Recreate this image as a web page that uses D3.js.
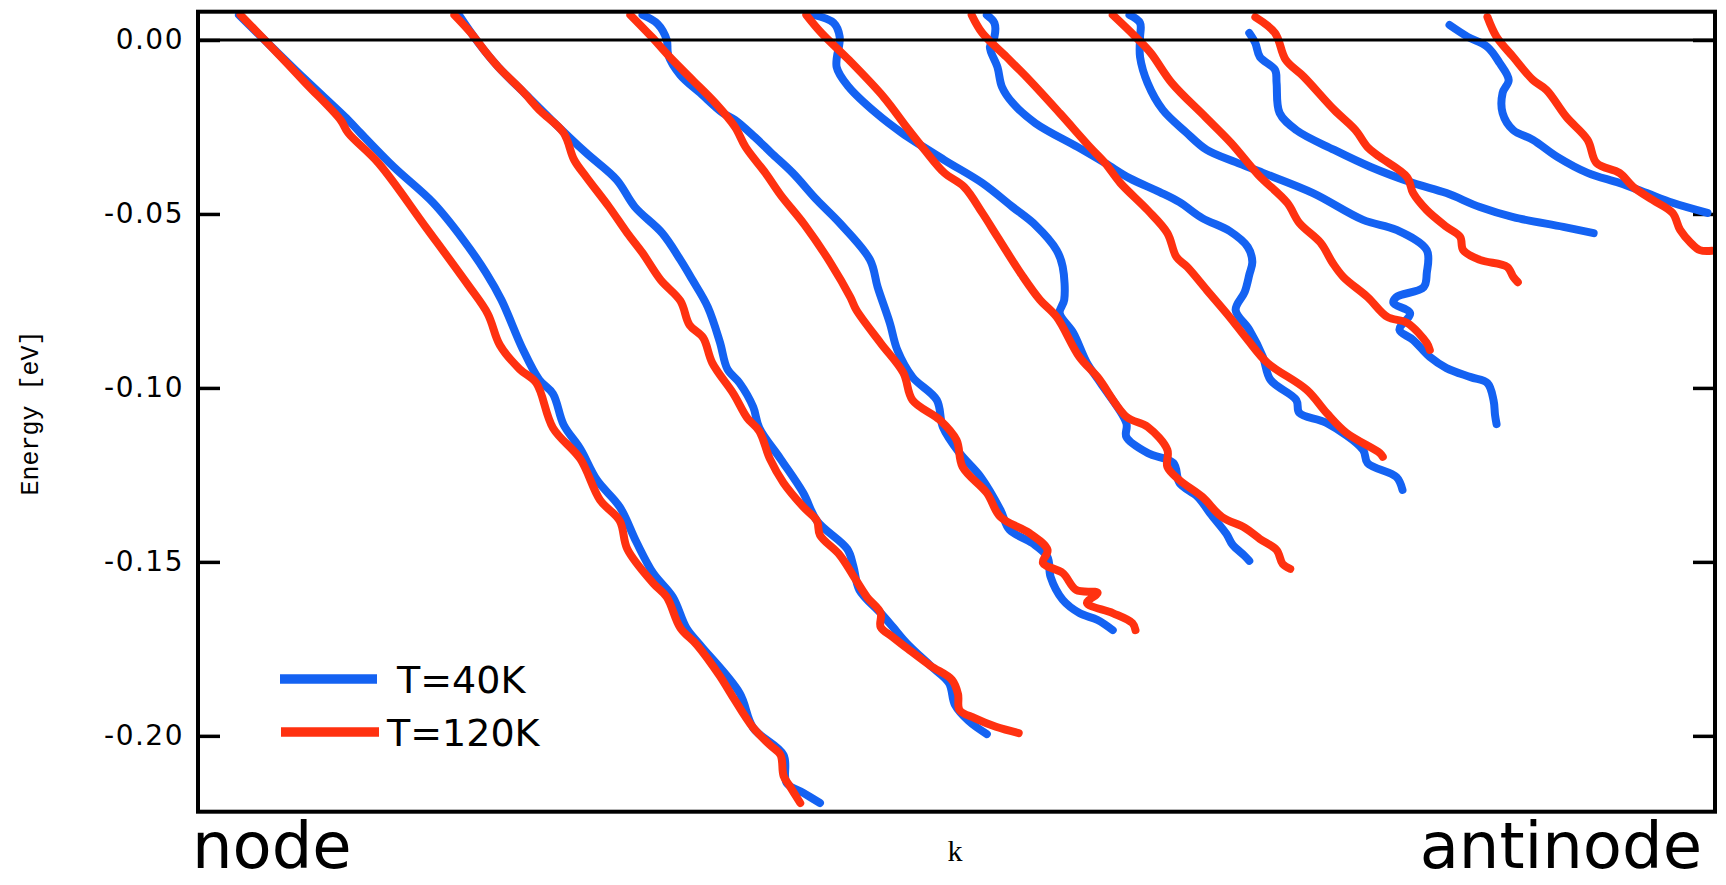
<!DOCTYPE html>
<html>
<head>
<meta charset="utf-8">
<script src="https://cdn.jsdelivr.net/npm/d3@7"></script>
<style>
  html, body { margin: 0; padding: 0; background: #ffffff; }
  svg { display: block; }
</style>
</head>
<body>
<svg id="chart" width="1726" height="885"></svg>
<script>
// ---- Data: k (0 = node, 1 = antinode, arbitrary units) and Energy in meV ----
const yTickValues = [0, -0.05, -0.10, -0.15, -0.20];
const yTickLabels = ["0.00", "-0.05", "-0.10", "-0.15", "-0.20"];
const seriesNames = ["T=40K", "T=120K"];

// cut 1 (node)
const cut1_T40 = [[0.027,7.2],[0.046,-0.9],[0.071,-11.5],[0.099,-23.0],[0.107,-26.7],[0.129,-36.5],[0.155,-46.8],[0.175,-57.5],[0.190,-67.0],[0.200,-74.7],[0.214,-88.8],[0.225,-97.7],[0.234,-101.7],[0.241,-110.6],[0.252,-117.5],[0.263,-126.5],[0.278,-134.2],[0.289,-144.3],[0.300,-153.2],[0.313,-160.1],[0.322,-169.0],[0.331,-173.9],[0.357,-187.7],[0.366,-197.7],[0.386,-205.5],[0.388,-213.5],[0.399,-216.4],[0.410,-219.3]];
const cut1_T120 = [[0.028,7.2],[0.044,0.0],[0.071,-12.4],[0.094,-23.0],[0.099,-26.7],[0.119,-35.4],[0.150,-53.7],[0.178,-70.4],[0.191,-78.7],[0.199,-87.7],[0.212,-94.6],[0.223,-98.6],[0.234,-111.5],[0.252,-120.4],[0.265,-132.2],[0.278,-138.2],[0.283,-146.3],[0.300,-156.1],[0.309,-160.1],[0.318,-169.0],[0.329,-173.9],[0.344,-182.8],[0.351,-187.7],[0.366,-197.7],[0.377,-202.6],[0.384,-205.5],[0.386,-211.5],[0.390,-214.4],[0.397,-219.3]];
// cut 2
const cut2_T40 = [[0.172,7.2],[0.185,-0.9],[0.198,-7.8],[0.215,-15.2],[0.233,-23.0],[0.256,-32.5],[0.276,-40.2],[0.288,-48.0],[0.306,-55.5],[0.318,-63.2],[0.326,-69.0],[0.336,-76.7],[0.344,-86.8],[0.349,-94.6],[0.357,-98.6],[0.366,-105.5],[0.370,-111.5],[0.384,-120.4],[0.399,-130.2],[0.408,-138.2],[0.428,-146.3],[0.432,-151.2],[0.436,-158.1],[0.450,-164.7],[0.458,-168.7],[0.467,-173.3],[0.483,-179.9],[0.495,-184.8],[0.499,-191.1],[0.508,-195.7],[0.520,-199.5]];
const cut2_T120 = [[0.169,7.2],[0.180,2.0],[0.190,-3.7],[0.198,-7.8],[0.215,-15.2],[0.225,-20.1],[0.241,-26.7],[0.248,-34.5],[0.256,-39.4],[0.271,-48.0],[0.283,-55.5],[0.293,-61.2],[0.305,-69.0],[0.318,-75.0],[0.324,-81.9],[0.333,-85.6],[0.339,-92.8],[0.353,-101.7],[0.362,-108.6],[0.370,-112.4],[0.377,-120.4],[0.386,-127.3],[0.399,-134.2],[0.408,-138.2],[0.410,-142.3],[0.423,-148.0],[0.432,-154.0],[0.441,-160.1],[0.450,-164.7],[0.450,-168.7],[0.458,-171.6],[0.468,-175.0],[0.483,-179.9],[0.497,-183.9],[0.501,-188.0],[0.502,-192.6],[0.512,-194.9],[0.526,-197.4],[0.541,-199.2]];
// cut 3
const cut3_T40 = [[0.293,7.2],[0.303,4.6],[0.309,0.0],[0.310,-4.3],[0.318,-10.1],[0.331,-15.2],[0.346,-21.0],[0.354,-23.0],[0.367,-27.9],[0.378,-32.5],[0.392,-38.2],[0.408,-46.0],[0.423,-52.6],[0.443,-63.2],[0.448,-71.0],[0.456,-81.3],[0.461,-89.1],[0.471,-96.9],[0.487,-103.5],[0.491,-111.2],[0.502,-118.7],[0.516,-125.6],[0.529,-135.1],[0.535,-140.8],[0.550,-144.6],[0.560,-148.6],[0.562,-154.3],[0.570,-160.9],[0.581,-164.7],[0.593,-166.7],[0.603,-169.6]];
const cut3_T120 = [[0.285,7.2],[0.299,0.9],[0.311,-4.9],[0.326,-11.5],[0.341,-18.1],[0.354,-25.0],[0.361,-30.8],[0.374,-38.2],[0.384,-44.5],[0.400,-53.2],[0.417,-64.1],[0.430,-73.9],[0.434,-77.6],[0.450,-87.1],[0.465,-95.7],[0.471,-103.5],[0.489,-109.2],[0.500,-115.0],[0.504,-122.7],[0.520,-130.2],[0.529,-137.1],[0.548,-141.7],[0.560,-146.6],[0.557,-150.3],[0.570,-153.2],[0.579,-158.1],[0.593,-158.9],[0.586,-161.8],[0.603,-164.7],[0.616,-167.6],[0.618,-169.6]];
// cut 4
const cut4_T40 = [[0.406,7.2],[0.419,4.9],[0.423,0.9],[0.421,-7.8],[0.429,-13.5],[0.447,-21.0],[0.464,-26.7],[0.492,-34.5],[0.517,-41.1],[0.537,-48.0],[0.552,-53.2],[0.566,-60.4],[0.570,-65.2],[0.571,-74.7],[0.568,-78.5],[0.577,-84.2],[0.586,-92.8],[0.595,-98.6],[0.612,-110.1],[0.612,-114.1],[0.626,-118.7],[0.643,-121.6],[0.647,-127.3],[0.659,-131.3],[0.668,-136.5],[0.678,-142.0],[0.682,-145.1],[0.690,-148.3],[0.693,-149.7]];
const cut4_T120 = [[0.401,7.2],[0.411,2.0],[0.429,-5.7],[0.452,-16.4],[0.467,-25.0],[0.479,-31.6],[0.492,-38.2],[0.505,-42.2],[0.517,-49.7],[0.527,-56.6],[0.543,-67.5],[0.555,-74.7],[0.566,-79.6],[0.581,-91.1],[0.593,-96.9],[0.612,-108.3],[0.626,-111.2],[0.639,-117.8],[0.639,-122.7],[0.647,-126.5],[0.662,-131.3],[0.675,-137.1],[0.690,-140.2],[0.700,-143.4],[0.711,-146.6],[0.715,-150.6],[0.720,-152.0]];
// cut 5
const cut5_T40 = [[0.520,7.2],[0.525,4.9],[0.525,0.9],[0.522,-2.0],[0.527,-7.8],[0.530,-13.5],[0.537,-18.1],[0.552,-23.9],[0.580,-30.8],[0.598,-35.4],[0.614,-39.7],[0.634,-43.7],[0.647,-46.6],[0.662,-51.2],[0.680,-54.9],[0.692,-59.5],[0.695,-63.8],[0.693,-67.5],[0.690,-72.4],[0.684,-77.6],[0.693,-83.3],[0.702,-91.1],[0.707,-97.7],[0.724,-103.5],[0.726,-107.2],[0.744,-110.1],[0.768,-117.8],[0.771,-121.6],[0.790,-125.6],[0.794,-129.3]];
const cut5_T120 = [[0.510,7.2],[0.517,2.0],[0.533,-4.9],[0.548,-11.5],[0.568,-21.0],[0.588,-30.8],[0.598,-35.4],[0.608,-41.1],[0.626,-48.9],[0.639,-55.5],[0.645,-62.4],[0.652,-65.2],[0.665,-71.9],[0.680,-79.6],[0.692,-86.2],[0.705,-92.8],[0.731,-100.6],[0.744,-107.2],[0.757,-112.9],[0.779,-118.7],[0.781,-119.8]];
// cut 6
const cut6_T40 = [[0.614,7.2],[0.621,4.9],[0.621,0.9],[0.621,-4.9],[0.626,-12.4],[0.636,-20.1],[0.651,-26.4],[0.665,-31.6],[0.684,-35.1],[0.702,-38.2],[0.735,-44.0],[0.768,-51.7],[0.790,-54.6],[0.810,-60.4],[0.810,-67.0],[0.808,-71.0],[0.790,-73.9],[0.788,-75.6],[0.799,-78.5],[0.792,-83.3],[0.801,-86.2],[0.812,-91.1],[0.823,-94.3],[0.839,-96.9],[0.850,-98.6],[0.854,-103.5],[0.855,-107.8],[0.856,-110.4]];
const cut6_T120 = [[0.603,7.2],[0.618,0.9],[0.628,-3.7],[0.642,-12.4],[0.664,-22.1],[0.681,-29.6],[0.699,-38.8],[0.718,-46.8],[0.726,-52.6],[0.740,-58.3],[0.748,-64.1],[0.755,-68.1],[0.771,-73.9],[0.784,-79.6],[0.797,-81.3],[0.810,-87.1],[0.812,-89.1]];
// cut 7
const cut7_T40 = [[0.693,2.0],[0.697,-0.9],[0.700,-4.9],[0.710,-8.6],[0.711,-12.4],[0.713,-21.0],[0.724,-25.9],[0.749,-31.6],[0.773,-36.5],[0.801,-41.1],[0.823,-44.0],[0.845,-48.0],[0.867,-50.9],[0.900,-53.7],[0.920,-55.5]];
const cut7_T120 = [[0.697,6.6],[0.710,2.0],[0.717,-5.7],[0.729,-10.6],[0.749,-20.1],[0.763,-25.9],[0.771,-30.8],[0.779,-33.6],[0.797,-39.4],[0.801,-44.0],[0.810,-48.9],[0.823,-53.7],[0.832,-56.6],[0.834,-60.4],[0.845,-63.2],[0.863,-65.2],[0.867,-68.1],[0.870,-69.6]];
// cut 8 (antinode)
const cut8_T40 = [[0.825,4.3],[0.837,0.9],[0.850,-2.0],[0.858,-6.6],[0.864,-11.5],[0.860,-15.2],[0.860,-21.0],[0.867,-25.9],[0.880,-28.7],[0.896,-33.6],[0.916,-38.2],[0.937,-41.1],[0.955,-44.0],[0.972,-46.8],[0.995,-49.7]];
const cut8_T120 = [[0.850,6.6],[0.856,0.9],[0.867,-4.9],[0.880,-11.5],[0.889,-14.4],[0.902,-22.1],[0.916,-28.7],[0.922,-35.4],[0.937,-38.2],[0.946,-42.2],[0.959,-46.0],[0.972,-49.7],[0.977,-54.6],[0.984,-58.3],[0.990,-60.4],[0.998,-60.6]];

const curvesT40 = [cut1_T40, cut2_T40, cut3_T40, cut4_T40, cut5_T40, cut6_T40, cut7_T40, cut8_T40];
const curvesT120 = [cut1_T120, cut2_T120, cut3_T120, cut4_T120, cut5_T120, cut6_T120, cut7_T120, cut8_T120];

// ---- Layout ----
const W = 1726, H = 885;
const plot = { left: 198, right: 1715, top: 11.7, bottom: 811.7 };
const BLUE = "#1462f2", RED = "#ff3110";

const svg = d3.select("#chart");
svg.append("rect").attr("width", W).attr("height", H).attr("fill", "#fff");

const x = d3.scaleLinear().domain([0, 1]).range([plot.left, plot.right]);
const y = d3.scaleLinear().domain([0.00813, -0.2218]).range([plot.top, plot.bottom]);

// Axes (inward ticks on both sides)
const yAxisL = d3.axisLeft(y).tickValues(yTickValues)
  .tickFormat((d, i) => yTickLabels[i]).tickSize(-22).tickPadding(14);
const gL = svg.append("g").attr("transform", `translate(${plot.left},0)`).call(yAxisL);
gL.select(".domain").remove();
gL.selectAll(".tick line").attr("stroke", "#000").attr("stroke-width", 3.5);
gL.selectAll(".tick text").attr("fill", "#000")
  .style("font-family", "'DejaVu Sans', sans-serif").style("font-size", "28px")
  .style("letter-spacing", "1.5px");

const yAxisR = d3.axisRight(y).tickValues(yTickValues).tickFormat("").tickSize(-22);
const gR = svg.append("g").attr("transform", `translate(${plot.right},0)`).call(yAxisR);
gR.select(".domain").remove();
gR.selectAll(".tick line").attr("stroke", "#000").attr("stroke-width", 3.5);

// Curves
const line = d3.line().x(d => x(d[0])).y(d => y(d[1] / 1000)).curve(d3.curveCatmullRom.alpha(0.5));
const gC = svg.append("g");
gC.selectAll("path.t40").data(curvesT40).join("path").attr("class", "t40")
  .attr("d", line).attr("fill", "none").attr("stroke", BLUE)
  .attr("stroke-width", 8).attr("stroke-linejoin", "round").attr("stroke-linecap", "round");
gC.selectAll("path.t120").data(curvesT120).join("path").attr("class", "t120")
  .attr("d", line).attr("fill", "none").attr("stroke", RED)
  .attr("stroke-width", 8).attr("stroke-linejoin", "round").attr("stroke-linecap", "round");

// Zero (Fermi) line and frame
svg.append("line").attr("x1", plot.left).attr("x2", plot.right)
  .attr("y1", y(0)).attr("y2", y(0)).attr("stroke", "#000").attr("stroke-width", 3);
svg.append("rect").attr("x", plot.left).attr("y", plot.top)
  .attr("width", plot.right - plot.left).attr("height", plot.bottom - plot.top)
  .attr("fill", "none").attr("stroke", "#000").attr("stroke-width", 4);

// Axis titles
svg.append("text").attr("transform", "translate(38,413) rotate(-90)")
  .attr("text-anchor", "middle")
  .style("font-family", "'Liberation Mono', monospace").style("font-size", "25px")
  .text("Energy [eV]");
svg.append("text").attr("x", 955).attr("y", 861).attr("text-anchor", "middle")
  .style("font-family", "'Liberation Serif', serif").style("font-size", "30px")
  .text("k");
svg.append("text").attr("x", 192).attr("y", 868).attr("text-anchor", "start")
  .style("font-family", "'DejaVu Sans', sans-serif").style("font-size", "64px")
  .text("node");
svg.append("text").attr("x", 1702).attr("y", 868).attr("text-anchor", "end")
  .style("font-family", "'DejaVu Sans', sans-serif").style("font-size", "64px")
  .text("antinode");

// Legend
const legend = [
  { name: seriesNames[0], color: BLUE, x1: 280, x2: 377, ly: 679, tx: 397 },
  { name: seriesNames[1], color: RED, x1: 281, x2: 379, ly: 732, tx: 387 }
];
const gLeg = svg.append("g");
legend.forEach(l => {
  gLeg.append("line").attr("x1", l.x1).attr("x2", l.x2).attr("y1", l.ly).attr("y2", l.ly)
    .attr("stroke", l.color).attr("stroke-width", 9.5);
  gLeg.append("text").attr("x", l.tx).attr("y", l.ly + 14)
    .style("font-family", "'DejaVu Sans', sans-serif").style("font-size", "38px")
    .text(l.name);
});
</script>
</body>
</html>
